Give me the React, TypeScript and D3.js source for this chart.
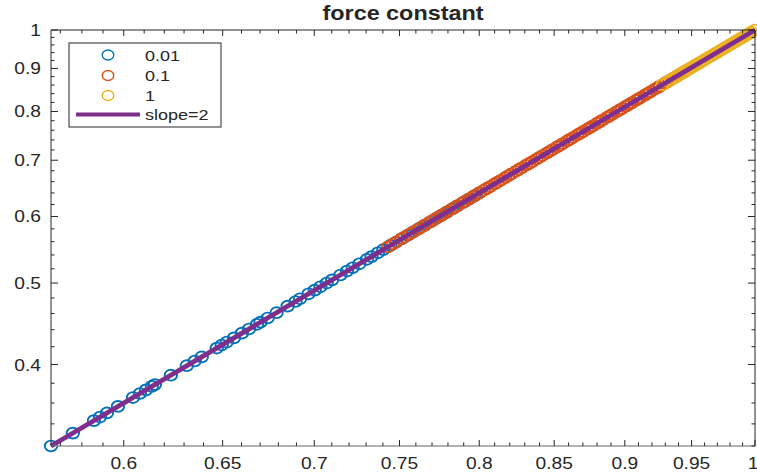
import React from 'react'
import * as d3 from 'd3'

const width = 757
const height = 475
const left = 51
const right = 755
const top = 30
const bottom = 446

const title = 'force constant'
const seriesNames = ['0.01', '0.1', '1']
const lineName = 'slope=2'

// force constant 0.01
const blueX = [0.5657, 0.5758, 0.5857, 0.5886, 0.5919, 0.5972, 0.6045, 0.6079, 0.6109, 0.6138, 0.6153, 0.6233, 0.6314, 0.6355, 0.6391, 0.6469, 0.6495, 0.6522, 0.656, 0.6602, 0.664, 0.6683, 0.6702, 0.6741, 0.679, 0.6851, 0.6895, 0.692, 0.6968, 0.7003, 0.7035, 0.7071, 0.7102, 0.715, 0.7188, 0.7221, 0.726, 0.7305, 0.7332, 0.737, 0.7402, 0.7445, 0.748, 0.7512, 0.755, 0.7588, 0.762, 0.7655, 0.769, 0.7728, 0.776, 0.7795, 0.783, 0.7862, 0.79, 0.7935, 0.7968, 0.8]
const blueY = [0.32, 0.3315, 0.343, 0.3464, 0.3503, 0.3567, 0.3654, 0.3695, 0.3732, 0.3768, 0.3786, 0.3885, 0.3987, 0.4039, 0.4084, 0.4185, 0.4219, 0.4254, 0.4303, 0.4359, 0.4409, 0.4466, 0.4492, 0.4544, 0.461, 0.4694, 0.4754, 0.4789, 0.4855, 0.4904, 0.4949, 0.5, 0.5044, 0.5112, 0.5167, 0.5214, 0.5271, 0.5336, 0.5376, 0.5432, 0.5479, 0.5543, 0.5595, 0.5643, 0.57, 0.5758, 0.5806, 0.586, 0.5914, 0.5972, 0.6022, 0.6076, 0.6131, 0.6181, 0.6241, 0.6296, 0.6349, 0.64]

// force constant 0.1
const orangeX = [0.743, 0.746, 0.748, 0.751, 0.753, 0.756, 0.758, 0.761, 0.763, 0.765, 0.768, 0.77, 0.772, 0.775, 0.777, 0.779, 0.782, 0.784, 0.786, 0.789, 0.791, 0.793, 0.796, 0.798, 0.8, 0.803, 0.805, 0.807, 0.81, 0.812, 0.814, 0.817, 0.819, 0.821, 0.824, 0.826, 0.828, 0.831, 0.833, 0.835, 0.838, 0.84, 0.842, 0.845, 0.847, 0.849, 0.852, 0.854, 0.856, 0.859, 0.861, 0.863, 0.866, 0.868, 0.87, 0.873, 0.875, 0.877, 0.88, 0.882, 0.884, 0.887, 0.889, 0.891, 0.894, 0.896, 0.898, 0.901, 0.903, 0.905, 0.908, 0.91, 0.912, 0.915, 0.917, 0.919, 0.922, 0.924, 0.926, 0.929, 0.931, 0.933, 0.936, 0.938, 0.94, 0.943, 0.945, 0.948]
const orangeY = [0.552, 0.5565, 0.5595, 0.564, 0.567, 0.5715, 0.5746, 0.5791, 0.5822, 0.5852, 0.5898, 0.5929, 0.596, 0.6006, 0.6037, 0.6068, 0.6115, 0.6147, 0.6178, 0.6225, 0.6257, 0.6288, 0.6336, 0.6368, 0.64, 0.6448, 0.648, 0.6512, 0.6561, 0.6593, 0.6626, 0.6675, 0.6708, 0.674, 0.679, 0.6823, 0.6856, 0.6906, 0.6939, 0.6972, 0.7022, 0.7056, 0.709, 0.714, 0.7174, 0.7208, 0.7259, 0.7293, 0.7327, 0.7379, 0.7413, 0.7448, 0.75, 0.7534, 0.7569, 0.7621, 0.7656, 0.7691, 0.7744, 0.7779, 0.7815, 0.7868, 0.7903, 0.7939, 0.7992, 0.8028, 0.8064, 0.8118, 0.8154, 0.819, 0.8245, 0.8281, 0.8317, 0.8372, 0.8409, 0.8446, 0.8501, 0.8538, 0.8575, 0.863, 0.8668, 0.8705, 0.8761, 0.8798, 0.8836, 0.8892, 0.893, 0.8987]

// force constant 1
const yellowX = [0.928, 0.932, 0.935, 0.937, 0.939, 0.941, 0.943, 0.945, 0.947, 0.949, 0.951, 0.953, 0.955, 0.957, 0.959, 0.961, 0.963, 0.965, 0.967, 0.969, 0.971, 0.973, 0.975, 0.977, 0.979, 0.981, 0.983, 0.985, 0.987, 0.989, 0.991, 0.993, 0.995, 0.997, 1.0]
const yellowY = [0.8612, 0.8686, 0.8742, 0.878, 0.8817, 0.8855, 0.8892, 0.893, 0.8968, 0.9006, 0.9044, 0.9082, 0.912, 0.9158, 0.9197, 0.9235, 0.9274, 0.9312, 0.9351, 0.939, 0.9428, 0.9467, 0.9506, 0.9545, 0.9584, 0.9624, 0.9663, 0.9702, 0.9742, 0.9781, 0.9821, 0.986, 0.99, 0.994, 1.0]

// slope=2 reference line
const lineX = [0.5657, 1]
const lineY = [0.32, 1]

const xMajor = [0.6, 0.65, 0.7, 0.75, 0.8, 0.85, 0.9, 0.95, 1]
const xMajorLabels = ['0.6', '0.65', '0.7', '0.75', '0.8', '0.85', '0.9', '0.95', '1']
const xMinor = [0.57, 0.58, 0.59, 0.61, 0.62, 0.63, 0.64, 0.66, 0.67, 0.68, 0.69, 0.71, 0.72, 0.73, 0.74, 0.76, 0.77, 0.78, 0.79, 0.81, 0.82, 0.83, 0.84, 0.86, 0.87, 0.88, 0.89, 0.91, 0.92, 0.93, 0.94, 0.96, 0.97, 0.98, 0.99]
const yMajor = [0.4, 0.5, 0.6, 0.7, 0.8, 0.9, 1]
const yMajorLabels = ['0.4', '0.5', '0.6', '0.7', '0.8', '0.9', '1']
const yMinor = [0.32, 0.34, 0.36, 0.38, 0.42, 0.44, 0.46, 0.48, 0.52, 0.54, 0.56, 0.58, 0.62, 0.64, 0.66, 0.68, 0.72, 0.74, 0.76, 0.78, 0.82, 0.84, 0.86, 0.88, 0.92, 0.94, 0.96, 0.98]

const colors = ['#0072BD', '#D95319', '#EDB120']
const lineColor = '#7E2F8E'
const ink = '#262626'
const font = '"Liberation Sans", Arial, sans-serif'
const stretch = 1.2

const xScale = d3.scaleLog().domain([0.5657, 1]).range([left, right])
const yScale = d3.scaleLog().domain([0.32, 1]).range([bottom, top])

const series = [
  { xs: blueX, ys: blueY, color: colors[0] },
  { xs: orangeX, ys: orangeY, color: colors[1] },
  { xs: yellowX, ys: yellowY, color: colors[2] }
]

const Label = ({ x, y, anchor, size, weight, children }: any) => (
  <g transform={`translate(${x},${y}) scale(${stretch},1)`}>
    <text textAnchor={anchor} fontSize={size} fontWeight={weight} fontFamily={font} fill={ink}>
      {children}
    </text>
  </g>
)

const Marker = ({ cx, cy, color }: any) => (
  <ellipse cx={cx} cy={cy} rx={6.2} ry={5.4} fill="none" stroke={color} strokeWidth={1.9} />
)

const App = () => {
  const linePath = d3
    .line<number>()
    .x((d, i) => xScale(lineX[i]))
    .y((d, i) => yScale(d))(lineY)

  const legendRows = [55, 75.5, 95.5]

  return (
    <svg width={width} height={height} style={{ position: 'absolute', left: 0, top: 0 }}>
      <rect width={width} height={height} fill="#fff" />

      {series.map((s, si) => (
        <g key={si}>
          {s.xs.map((x, i) => (
            <Marker key={i} cx={xScale(x)} cy={yScale(s.ys[i])} color={s.color} />
          ))}
        </g>
      ))}

      <path d={linePath || ''} stroke={lineColor} strokeWidth={4.8} fill="none" />

      {/* box */}
      <line x1={left} x2={right} y1={top} y2={top} stroke={ink} />
      <line x1={left} x2={left} y1={top} y2={bottom} stroke={ink} />
      <line x1={right} x2={right} y1={top} y2={bottom} stroke={ink} />
      <line x1={left} x2={right} y1={bottom} y2={bottom} stroke="#999" strokeWidth={1.5} />

      {/* x ticks */}
      {xMajor.map((v, i) => {
        const x = xScale(v)
        return (
          <g key={'xM' + i}>
            <line x1={x} x2={x} y1={bottom} y2={bottom - 6} stroke={ink} />
            <line x1={x} x2={x} y1={top} y2={top + 6} stroke={ink} />
            <Label x={v === 1 ? x - 2 : x} y={469} anchor="middle" size={16}>{xMajorLabels[i]}</Label>
          </g>
        )
      })}
      {xMinor.map((v, i) => {
        const x = xScale(v)
        return (
          <g key={'xm' + i}>
            <line x1={x} x2={x} y1={bottom} y2={bottom - 3.5} stroke={ink} />
            <line x1={x} x2={x} y1={top} y2={top + 3.5} stroke={ink} />
          </g>
        )
      })}

      {/* y ticks */}
      {yMajor.map((v, i) => {
        const y = yScale(v)
        return (
          <g key={'yM' + i}>
            <line x1={left} x2={left + 7} y1={y} y2={y} stroke={ink} />
            <line x1={right} x2={right - 7} y1={y} y2={y} stroke={ink} />
            <Label x={41} y={y + 6} anchor="end" size={16}>{yMajorLabels[i]}</Label>
          </g>
        )
      })}
      {yMinor.map((v, i) => {
        const y = yScale(v)
        return (
          <g key={'ym' + i}>
            <line x1={left} x2={left + 3.5} y1={y} y2={y} stroke={ink} />
            <line x1={right} x2={right - 3.5} y1={y} y2={y} stroke={ink} />
          </g>
        )
      })}

      <Label x={(left + right) / 2} y={20} anchor="middle" size={19.5} weight="bold">{title}</Label>

      {/* legend */}
      <rect x={69} y={43} width={152} height={84} fill="#fff" stroke={ink} strokeWidth={1} />
      {seriesNames.map((name, i) => (
        <g key={name}>
          <ellipse cx={108} cy={legendRows[i]} rx={5.8} ry={5} fill="none" stroke={colors[i]} strokeWidth={1.4} />
          <Label x={145} y={legendRows[i] + 5.5} anchor="start" size={15}>{name}</Label>
        </g>
      ))}
      <line x1={76} x2={140} y1={114.5} y2={114.5} stroke={lineColor} strokeWidth={4} />
      <Label x={145} y={120} anchor="start" size={15}>{lineName}</Label>
    </svg>
  )
}

export default App
